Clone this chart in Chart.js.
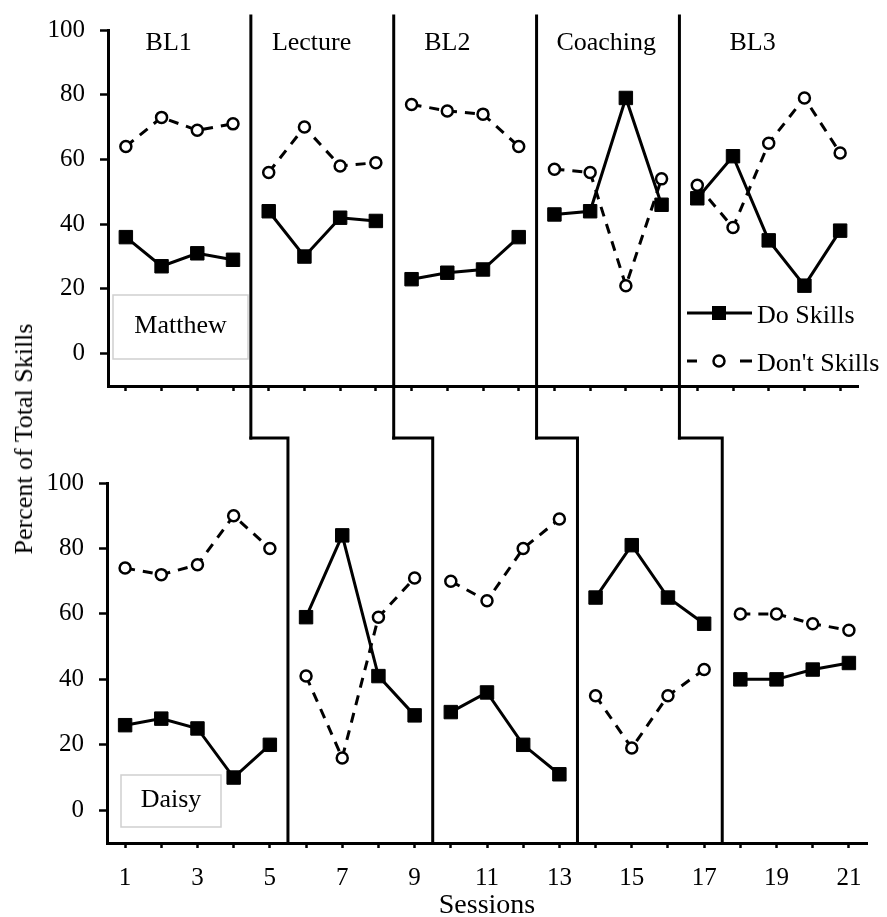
<!DOCTYPE html>
<html>
<head>
<meta charset="utf-8">
<title>Do / Don't Skills by session</title>
<script src="https://cdn.jsdelivr.net/npm/chart.js@4.4.1/dist/chart.umd.min.js"></script>
<style>
  html, body { margin: 0; padding: 0; background: #fff; overflow: hidden; }
  #page { position: relative; width: 887px; height: 917px; }
  canvas { position: absolute; left: 0; }
  #matthew { top: 0; }
  #daisy { top: 430px; }
  #ytitle {
    position: absolute; left: 24px; top: 439px;
    transform: translate(-50%, -50%) rotate(-90deg);
    font: 26px 'Liberation Serif', 'Times New Roman', serif;
    white-space: nowrap; color: #000;
  }
</style>
</head>
<body>
<div id="page">
  <canvas id="matthew" width="887" height="440"></canvas>
  <canvas id="daisy" width="887" height="497"></canvas>
  <div id="ytitle">Percent of Total Skills</div>
</div>
<script>
// ---- data ----
const sessions = [1, 2, 3, 4, 5, 6, 7, 8, 9, 10, 11, 12, 13, 14, 15, 16, 17, 18, 19, 20, 21];
const labeledSessions = [1, 3, 5, 7, 9, 11, 13, 15, 17, 19, 21];
const yTicks = [0, 20, 40, 60, 80, 100];
const phaseNames = ['BL1', 'Lecture', 'BL2', 'Coaching', 'BL3'];

const matthewDo   = [36, 27, 31, 29, 44, 30, 42, 41, 23, 25, 26, 36, 43, 44, 79, 46, 48, 61, 35, 21, 38];
const matthewDont = [64, 73, 69, 71, 56, 70, 58, 59, 77, 75, 74, 64, 57, 56, 21, 54, 52, 39, 65, 79, 62];
const daisyDo     = [26, 28, 25, 10, 20, 59, 84, 41, 29, 30, 36, 20, 11, 65, 81, 65, 57, 40, 40, 43, 45];
const daisyDont   = [74, 72, 75, 90, 80, 41, 16, 59, 71, 70, 64, 80, 89, 35, 19, 35, 43, 60, 60, 57, 55];

// phase changes fall between sessions
const matthewBreaks = [4.5, 8.5, 12.5, 16.5];
const daisyBreaks = [5.5, 9.5, 13.5, 17.5];

// ---- layout ----
const SERIF = "'Liberation Serif', 'Times New Roman', serif";
const phaseLabelAt = [2.2, 6.2, 10, 14.45, 18.55];   // in session units
const BOTTOM_TOP = 430;                               // page y of the Daisy canvas

Chart.defaults.font.family = SERIF;
Chart.defaults.color = '#000';

const doStyle = {
  borderColor: '#000', borderWidth: 3,
  pointStyle: 'rect', pointRadius: 9.5,
  pointBackgroundColor: '#000', pointBorderColor: '#000', pointBorderWidth: 1
};
const dontStyle = {
  borderColor: '#000', borderWidth: 3, borderDash: [10, 8],
  pointStyle: 'circle', pointRadius: 5.5,
  pointBackgroundColor: '#fff', pointBorderColor: '#000', pointBorderWidth: 2.5
};

/**
 * Turn a per-session series into {x, y} points, with a null at every
 * phase change so the line breaks there.
 */
function buildPoints(values, breaks) {
  const pts = [];
  sessions.forEach((s, i) => {
    breaks.forEach(b => { if (b > s - 1 && b < s) pts.push({ x: b, y: null }); });
    pts.push({ x: s, y: values[i] });
  });
  return pts;
}

function series(label, values, breaks, style) {
  return Object.assign({ label, data: buildPoints(values, breaks), spanGaps: false, tension: 0 }, style);
}

/**
 * Shared options for both panels
 */
function panelOptions(p) {
  return {
    responsive: false,
    animation: false,
    events: [],
    layout: { padding: { left: 0, right: p.right, top: p.top, bottom: p.bottom } },
    plugins: {
      legend: { display: false },
      tooltip: { enabled: false },
      nameBox: p.nameBox
    },
    scales: {
      x: {
        type: 'linear', min: 0.5, max: 21.5,
        afterBuildTicks: s => { s.ticks = sessions.map(v => ({ value: v })); },
        afterFit: s => { s.height = p.xHeight; },
        grid: { drawOnChartArea: false, drawTicks: true, tickLength: 5, tickWidth: 2.5, tickColor: '#000' },
        border: { display: true, color: '#000', width: 3 },
        ticks: {
          display: p.showX, autoSkip: false, maxRotation: 0, padding: 15,
          font: { size: 25 },
          callback: v => labeledSessions.includes(v) ? String(v) : ''
        },
        title: {
          display: p.showX, text: 'Sessions',
          font: { size: 28 }, padding: { top: 0, bottom: 5 }
        }
      },
      y: {
        min: -10, max: 100,
        afterBuildTicks: s => { s.ticks = yTicks.map(v => ({ value: v })); },
        afterFit: s => { s.width = p.yWidth; },
        grid: { drawOnChartArea: false, drawTicks: true, tickLength: 8, tickWidth: 2.5, tickColor: '#000' },
        border: { display: true, color: '#000', width: 3 },
        ticks: { padding: 15, font: { size: 25 } }
      }
    }
  };
}

// participant name in a light grey box
const nameBox = {
  id: 'nameBox',
  afterDraw(chart, args, o) {
    if (!o || !o.text) return;
    const ctx = chart.ctx;
    ctx.save();
    ctx.fillStyle = '#fff';
    ctx.fillRect(o.x, o.y, o.w, o.h);
    ctx.strokeStyle = '#cfcfcf';
    ctx.lineWidth = 1.5;
    ctx.strokeRect(o.x, o.y, o.w, o.h);
    ctx.fillStyle = '#000';
    ctx.font = '26px ' + SERIF;
    ctx.textAlign = 'center';
    ctx.textBaseline = 'middle';
    ctx.fillText(o.text, o.x + o.w / 2, o.y + o.h / 2 - 1);
    ctx.restore();
  }
};

// top panel: phase lines, phase names and the legend
const matthewExtras = {
  id: 'matthewExtras',
  afterDraw(chart) {
    const { ctx, scales: { x } } = chart;
    ctx.save();
    ctx.strokeStyle = '#000';
    ctx.lineWidth = 3;
    ctx.lineCap = 'square';
    matthewBreaks.forEach(b => {
      const px = x.getPixelForValue(b);
      ctx.beginPath();
      ctx.moveTo(px, 16);
      ctx.lineTo(px, 438);
      ctx.stroke();
    });

    ctx.fillStyle = '#000';
    ctx.font = '26px ' + SERIF;
    ctx.textAlign = 'center';
    ctx.textBaseline = 'middle';
    phaseNames.forEach((n, i) => ctx.fillText(n, x.getPixelForValue(phaseLabelAt[i]), 43));

    // legend
    const lx = 687, lx2 = 752, mx = 719, tx = 757;
    ctx.lineCap = 'butt';
    ctx.lineWidth = 3;
    ctx.beginPath();
    ctx.moveTo(lx, 313); ctx.lineTo(lx2, 313);
    ctx.stroke();
    ctx.fillRect(mx - 7, 313 - 7, 14, 14);

    ctx.beginPath();
    ctx.moveTo(lx, 361); ctx.lineTo(lx + 10, 361);
    ctx.moveTo(lx2 - 12, 361); ctx.lineTo(lx2, 361);
    ctx.stroke();
    ctx.beginPath();
    ctx.arc(mx, 361, 5.5, 0, Math.PI * 2);
    ctx.fillStyle = '#fff';
    ctx.fill();
    ctx.lineWidth = 2.5;
    ctx.stroke();

    ctx.fillStyle = '#000';
    ctx.textAlign = 'left';
    ctx.fillText('Do Skills', tx, 316);
    ctx.fillText("Don't Skills", tx, 364);
    ctx.restore();
  }
};

const matthewChart = new Chart(document.getElementById('matthew'), {
  type: 'line',
  data: { datasets: [
    series('Do Skills', matthewDo, matthewBreaks, doStyle),
    series("Don't Skills", matthewDont, matthewBreaks, dontStyle)
  ] },
  options: panelOptions({
    right: 29, top: 22, bottom: 0, xHeight: 54, yWidth: 108, showX: false,
    nameBox: { text: 'Matthew', x: 113, y: 295, w: 135, h: 64 }
  }),
  plugins: [nameBox, matthewExtras]
});

// bottom panel: stepped connectors from the top phase lines, then down
const daisyExtras = {
  id: 'daisyExtras',
  afterDraw(chart) {
    const { ctx, chartArea, scales: { x } } = chart;
    const topX = matthewChart.scales.x;
    const stepY = 438 - BOTTOM_TOP;
    ctx.save();
    ctx.strokeStyle = '#000';
    ctx.lineWidth = 3;
    ctx.lineCap = 'square';
    ctx.lineJoin = 'miter';
    daisyBreaks.forEach((b, i) => {
      ctx.beginPath();
      ctx.moveTo(topX.getPixelForValue(matthewBreaks[i]), stepY);
      ctx.lineTo(x.getPixelForValue(b), stepY);
      ctx.lineTo(x.getPixelForValue(b), chartArea.bottom);
      ctx.stroke();
    });
    ctx.restore();
  }
};

new Chart(document.getElementById('daisy'), {
  type: 'line',
  data: { datasets: [
    series('Do Skills', daisyDo, daisyBreaks, doStyle),
    series("Don't Skills", daisyDont, daisyBreaks, dontStyle)
  ] },
  options: panelOptions({
    right: 20, top: 483 - BOTTOM_TOP, bottom: 0, xHeight: 84, yWidth: 107, showX: true,
    nameBox: { text: 'Daisy', x: 121, y: 775 - BOTTOM_TOP, w: 100, h: 52 }
  }),
  plugins: [nameBox, daisyExtras]
});
</script>
</body>
</html>
